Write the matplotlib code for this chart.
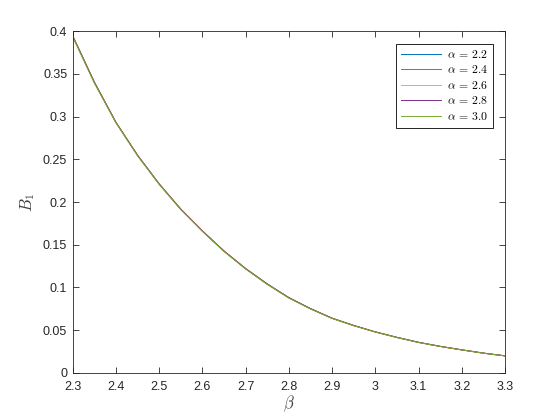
import numpy as np
import matplotlib
matplotlib.use('Agg')
import matplotlib.pyplot as plt

plt.rcParams['font.family'] = ['Liberation Sans', 'DejaVu Sans']
plt.rcParams['mathtext.fontset'] = 'cm'

# beta grid and B1 values (curves nearly overlap)
beta = [2.30, 2.35, 2.40, 2.45, 2.50, 2.55, 2.60, 2.65, 2.70, 2.75, 2.80,
        2.85, 2.90, 2.95, 3.00, 3.05, 3.10, 3.15, 3.20, 3.25, 3.30]
b1_a22 = [0.394, 0.340, 0.293, 0.2545, 0.221, 0.1915, 0.166, 0.1425, 0.122, 0.104, 0.088,
          0.0752, 0.0640, 0.0555, 0.0480, 0.0416, 0.0358, 0.0311, 0.0270, 0.0232, 0.0200]
b1_a24 = [0.394, 0.340, 0.293, 0.2545, 0.221, 0.1915, 0.166, 0.1425, 0.122, 0.104, 0.088,
          0.0752, 0.0640, 0.0555, 0.0480, 0.0416, 0.0358, 0.0311, 0.0270, 0.0232, 0.0200]
b1_a26 = [0.394, 0.340, 0.293, 0.2545, 0.221, 0.1915, 0.166, 0.1425, 0.122, 0.104, 0.088,
          0.0752, 0.0640, 0.0555, 0.0480, 0.0416, 0.0358, 0.0311, 0.0270, 0.0232, 0.0200]
b1_a28 = [0.394, 0.340, 0.293, 0.2545, 0.221, 0.1915, 0.166, 0.1425, 0.122, 0.104, 0.088,
          0.0752, 0.0640, 0.0555, 0.0480, 0.0416, 0.0358, 0.0311, 0.0270, 0.0232, 0.0200]
b1_a30 = [0.393, 0.339, 0.2925, 0.254, 0.2205, 0.191, 0.1655, 0.142, 0.1215, 0.1035, 0.0875,
          0.0748, 0.0637, 0.0552, 0.0478, 0.0414, 0.0356, 0.0310, 0.0269, 0.0231, 0.0199]

alphas = ['2.2', '2.4', '2.6', '2.8', '3.0']
series = [b1_a22, b1_a24, b1_a26, b1_a28, b1_a30]
colors = ['#0072BD', '#D95319', '#EDB120', '#7E2F8E', '#77AC30']

fig = plt.figure(figsize=(5.6, 4.2), dpi=100)
ax = fig.add_axes([0.13, 0.112, 0.772, 0.814])

for a, vals, c in zip(alphas, series, colors):
    ax.plot(beta, vals, color=c, lw=0.7, label=r'$\alpha\,=\,%s$' % a)

ax.set_xlim(2.3, 3.3)
ax.set_ylim(0, 0.4)
ax.set_xticks(np.arange(2.3, 3.31, 0.1))
ax.set_xticklabels(['2.3', '2.4', '2.5', '2.6', '2.7', '2.8', '2.9', '3', '3.1', '3.2', '3.3'])
ax.set_yticks(np.arange(0, 0.41, 0.05))
ax.set_yticklabels(['0', '0.05', '0.1', '0.15', '0.2', '0.25', '0.3', '0.35', '0.4'])
ax.tick_params(direction='in', top=True, right=True, labelsize=9, length=4.5,
               width=0.6, colors='#262626')
ax.tick_params(axis='x', pad=6)
ax.tick_params(axis='y', pad=4)
for s in ax.spines.values():
    s.set_linewidth(0.6)
    s.set_color('#262626')

ax.set_xlabel(r'$\beta$', fontsize=12, color='#404040', labelpad=0)
ax.set_ylabel(r'$B_1$', fontsize=12, color='#404040', labelpad=4)

leg = ax.legend(loc='upper right', bbox_to_anchor=(0.972, 0.962), fontsize=8.5,
                fancybox=False, framealpha=1, edgecolor='black',
                handlelength=3.4, handletextpad=0.5, borderpad=0.4,
                labelspacing=0.3, borderaxespad=0)
leg.get_frame().set_linewidth(0.6)

fig.savefig('out.png', dpi=100)
